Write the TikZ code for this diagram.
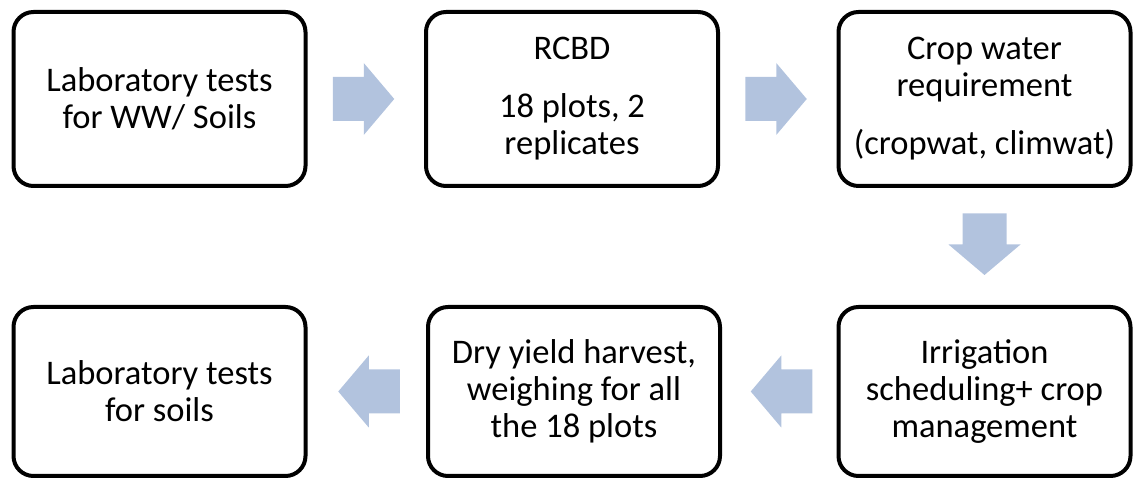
\documentclass[tikz,border=0pt]{standalone}
\usepackage{fontspec}
\setmainfont{Carlito}
\usetikzlibrary{calc}
\definecolor{arrowblue}{RGB}{178,195,222}

\tikzset{
  stepbox/.style={draw, line width=4pt, rounded corners=20pt, minimum width=292pt,
    align=center, inner sep=0pt, font=\fontsize{34.5}{37}\selectfont},
  blockarrow/.pic={\fill[arrowblue] (-33,-22) -- (-2,-22) -- (-2,-36) -- (28.5,0)
    -- (-2,36) -- (-2,22) -- (-33,22) -- cycle;}
}

\begin{document}
\begin{tikzpicture}[x=1pt, y=1pt]
	\useasboundingbox (0,0) rectangle (1133,481);
	
	% top row
	\node [stepbox, minimum height=174pt] (labww) at (159.5,382) {Laboratory tests\\for WW/ Soils};
	\node [stepbox, minimum height=174pt] (rcbd) at (572,382) {RCBD\\[21pt]18 plots, 2\\replicates};
	\node [stepbox, minimum height=174pt] (cwr) at (984.5,382) {Crop water\\requirement\\[21pt](cropwat, climwat)};
	
	% bottom row
	\node [stepbox, minimum height=169pt] (irr) at (984.5,89.5) {Irrigation\\scheduling+ crop\\management};
	\node [stepbox, minimum height=169pt] (dry) at (574,89.5) {Dry yield harvest,\\weighing for all\\the 18 plots};
	\node [stepbox, minimum height=169pt] (labsoil) at (159.5,89.5) {Laboratory tests\\for soils};
	
	% block arrows between the steps
	\pic at ($(labww.east)!0.5!(rcbd.west)$) {blockarrow};
	\pic at ($(rcbd.east)!0.5!(cwr.west)$) {blockarrow};
	\pic [rotate=-90] at ($(cwr.south)!0.5!(irr.north)$) {blockarrow};
	\pic [rotate=180] at ($(irr.west)!0.5!(dry.east)$) {blockarrow};
	\pic [rotate=180] at ($(dry.west)!0.5!(labsoil.east)$) {blockarrow};
\end{tikzpicture}
\end{document}
